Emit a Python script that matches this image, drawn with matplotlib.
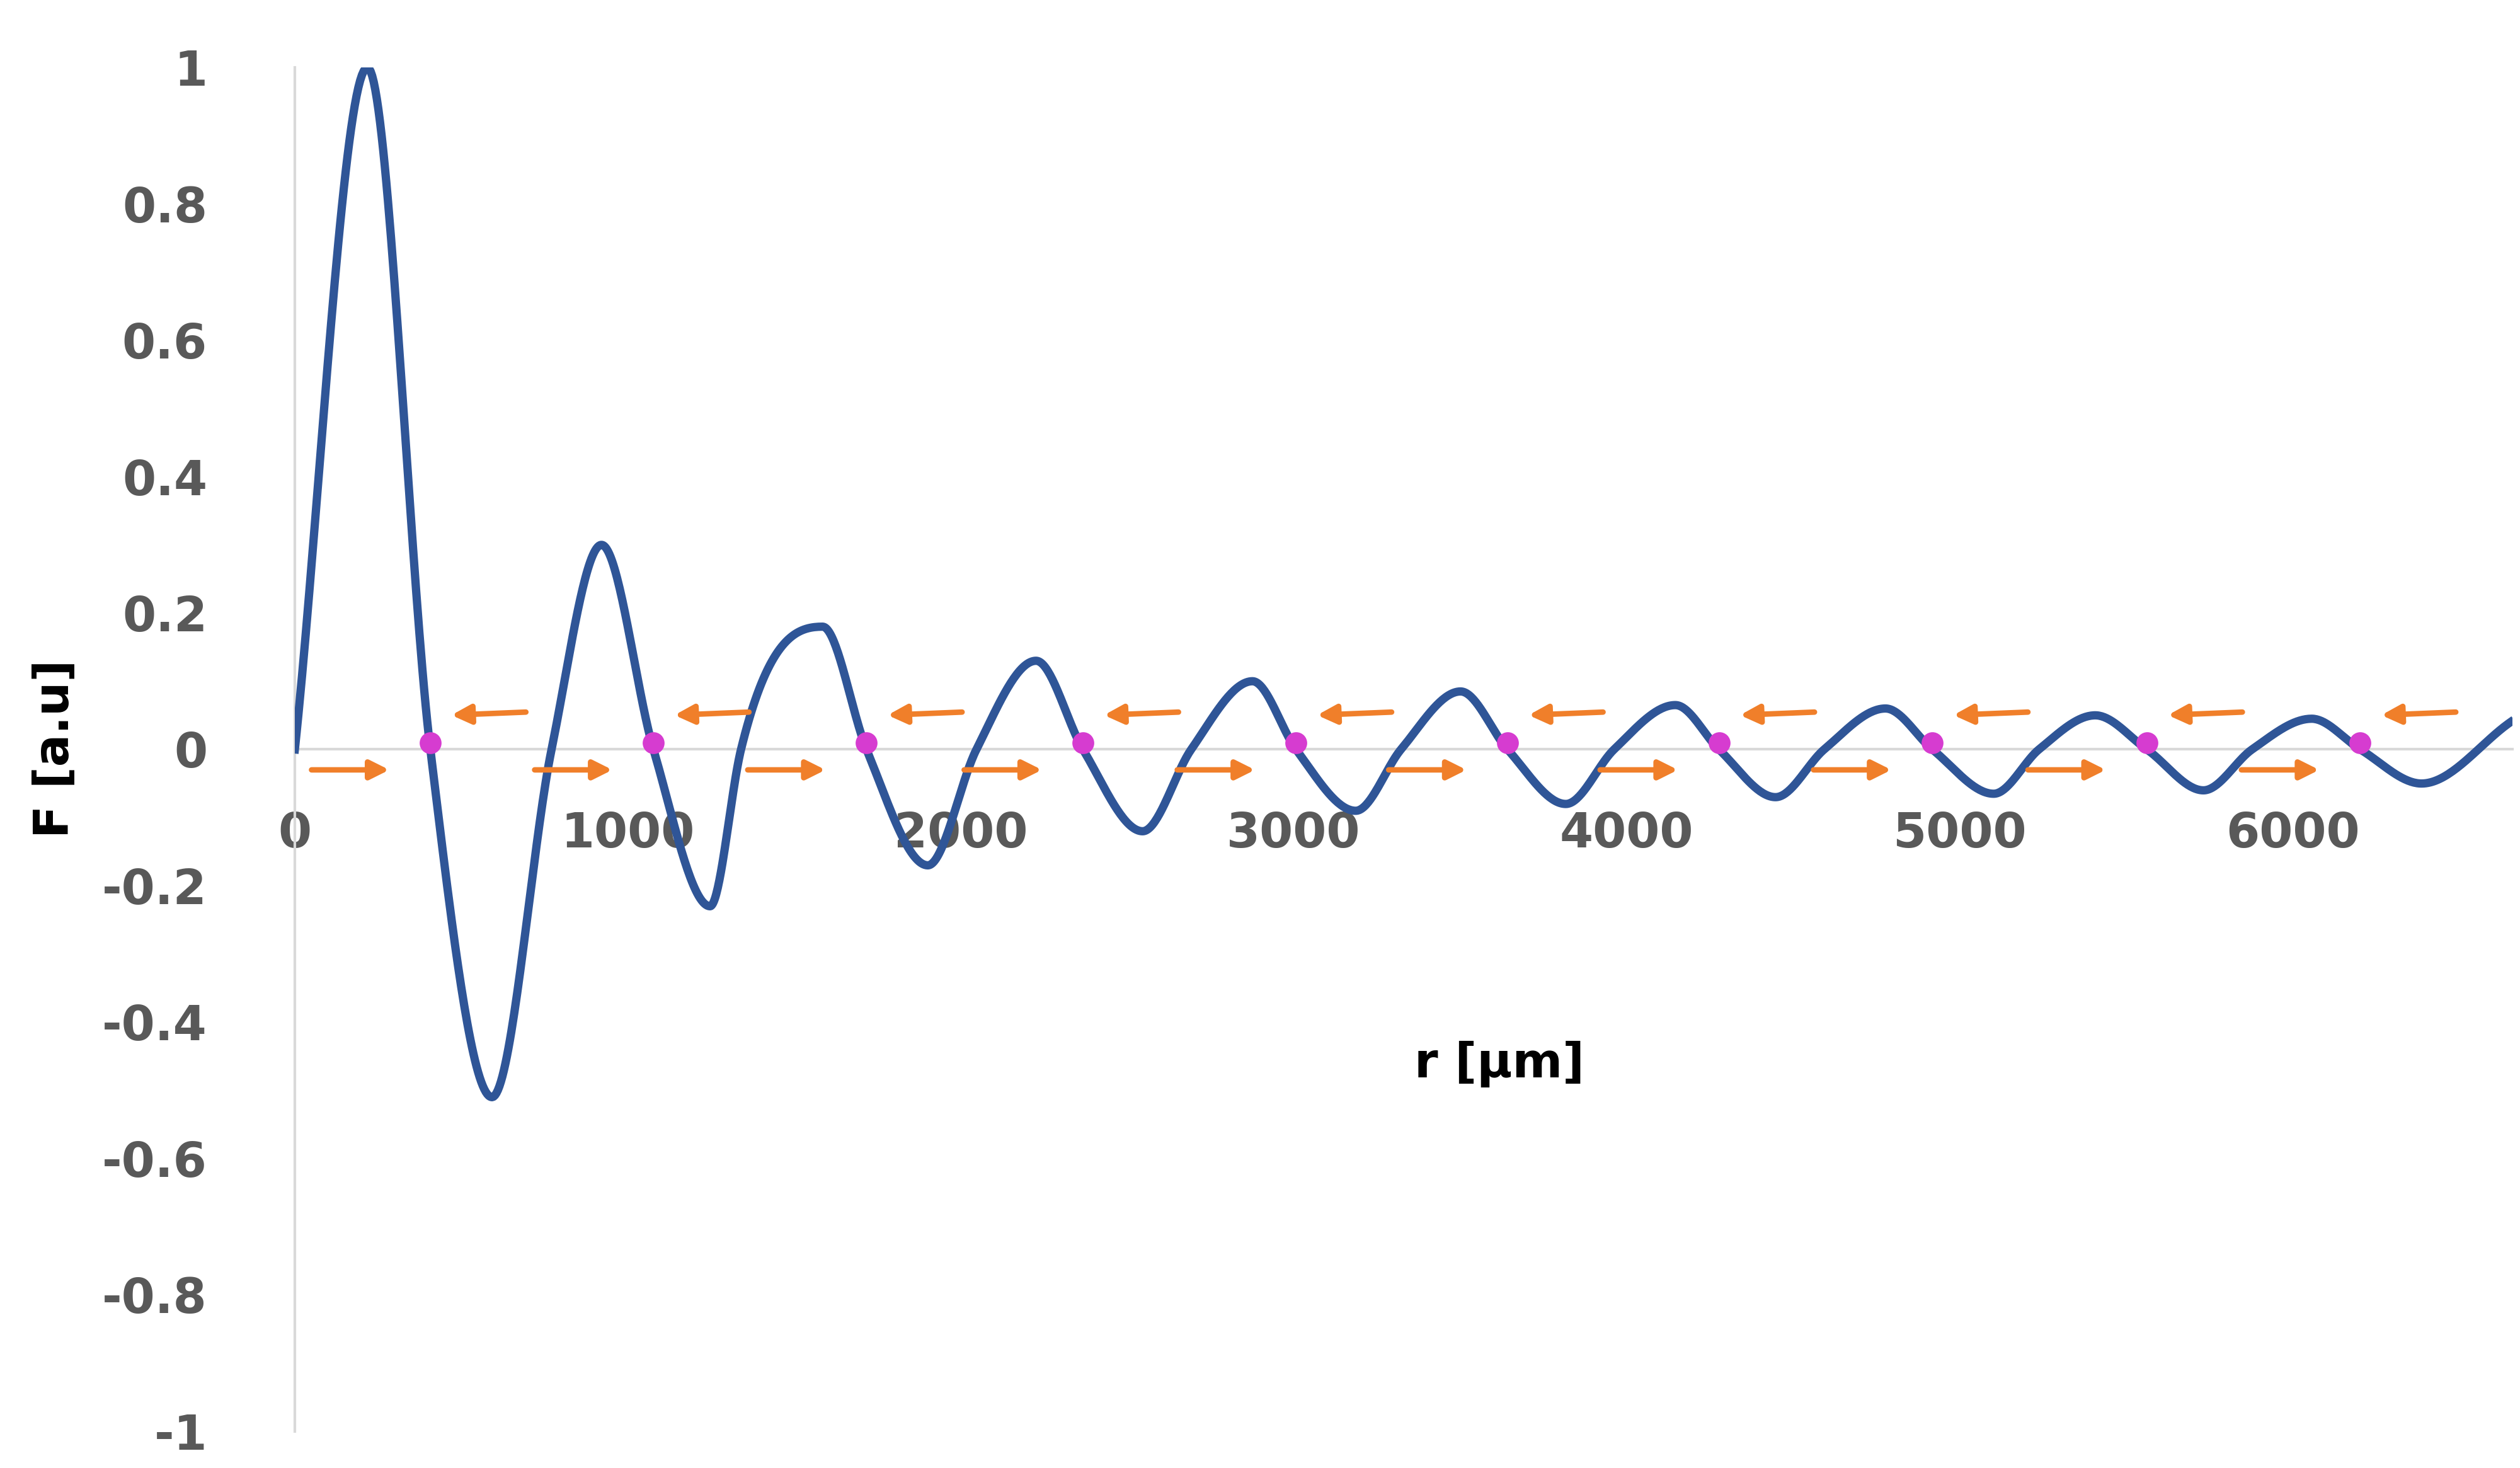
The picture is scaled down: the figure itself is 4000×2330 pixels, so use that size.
import numpy as np
import matplotlib.pyplot as plt

plt.rcParams['font.family'] = 'DejaVu Sans'

# key points of the curve (r in um, F in a.u.)
r_pts = [0, 218, 407, 592, 771, 921, 1077, 1247, 1402, 1455, 1717, 1901, 2047,
         2226, 2367, 2546, 2692, 2876, 3007, 3186, 3322, 3501, 3642, 3817,
         3962, 4146, 4277, 4447, 4593, 4777, 4918, 5102, 5238, 5407, 5562,
         5732, 5878, 6057, 6203, 6387, 6654]
f_pts = [0, 1.0, 0, -0.51, 0, 0.30, 0, -0.23, 0, 0.18, 0, -0.17, 0,
         0.13, 0, -0.12, 0, 0.10, 0, -0.09, 0, 0.085, 0, -0.08,
         0, 0.065, 0, -0.07, 0, 0.06, 0, -0.065, 0, 0.05, 0,
         -0.06, 0, 0.045, 0, -0.05, 0.04]
# fix: the third peak sits near 1585 um
r_pts[8], r_pts[9] = 1340, 1585

# marked zero crossings
r_marks = [407, 1077, 1717, 2367, 3007, 3642, 4277, 4918, 5562, 6203]

x_ticks = [0, 1000, 2000, 3000, 4000, 5000, 6000]
y_ticks = [-1, -0.8, -0.6, -0.4, -0.2, 0, 0.2, 0.4, 0.6, 0.8, 1]
y_labels = ['-1', '-0.8', '-0.6', '-0.4', '-0.2', '0', '0.2', '0.4', '0.6', '0.8', '1']


def smooth(x, y, n=40):
    # Catmull-Rom / cubic Hermite rendering through the read points
    x = np.asarray(x, float)
    y = np.asarray(y, float)
    m = np.gradient(y, x)
    ext = np.r_[False, (np.diff(np.sign(np.diff(y))) != 0), False]
    m[ext] = 0
    xs, ys = [], []
    for i in range(len(x) - 1):
        h = x[i + 1] - x[i]
        t = np.linspace(0, 1, n, endpoint=False)
        h00 = 2 * t**3 - 3 * t**2 + 1
        h10 = t**3 - 2 * t**2 + t
        h01 = -2 * t**3 + 3 * t**2
        h11 = t**3 - t**2
        xs.append(x[i] + t * h)
        ys.append(h00 * y[i] + h10 * h * m[i] + h01 * y[i + 1] + h11 * h * m[i + 1])
    xs.append([x[-1]])
    ys.append([y[-1]])
    return np.concatenate(xs), np.concatenate(ys)


fig = plt.figure(figsize=(16, 9.32), dpi=250)
ax = fig.add_axes([0.117, 0.025, 0.88, 0.929])

xs, ys = smooth(r_pts, f_pts)
ax.plot(xs, ys, color='#2f5597', lw=3.8, zorder=3)

orange = '#f07f2a'
for rm in r_marks:
    ax.annotate('', xy=(rm - 110, -0.03), xytext=(rm - 370, -0.03),
                arrowprops=dict(arrowstyle='-|>', color=orange, lw=2.5,
                                mutation_scale=18))
    ax.annotate('', xy=(rm + 50, 0.05), xytext=(rm + 300, 0.055),
                arrowprops=dict(arrowstyle='-|>', color=orange, lw=2.5,
                                mutation_scale=18))
ax.plot(r_marks, [0.01] * len(r_marks), 'o', color='#d63cd0', ms=9, zorder=4)

ax.set_xlim(0, 6660)
ax.set_ylim(-1, 1)
ax.spines['left'].set_position(('data', 0))
ax.spines['bottom'].set_position(('data', 0))
for s in ['top', 'right']:
    ax.spines[s].set_visible(False)
for s in ['left', 'bottom']:
    ax.spines[s].set_color('#d9d9d9')
    ax.spines[s].set_linewidth(1.2)
ax.tick_params(length=0, colors='#595959', labelsize=22)
ax.tick_params(axis='x', pad=28)
ax.tick_params(axis='y', pad=40)
ax.set_xticks(x_ticks)
ax.set_yticks(y_ticks)
ax.set_yticklabels(y_labels)
for lab in ax.get_xticklabels() + ax.get_yticklabels():
    lab.set_fontweight('bold')

fig.text(0.595, 0.275, 'r [µm]', fontsize=22, fontweight='bold', ha='center', va='center')
fig.text(0.022, 0.49, 'F [a.u]', fontsize=22, fontweight='bold', ha='center',
         va='center', rotation=90)

fig.savefig('out.png', dpi=250)
